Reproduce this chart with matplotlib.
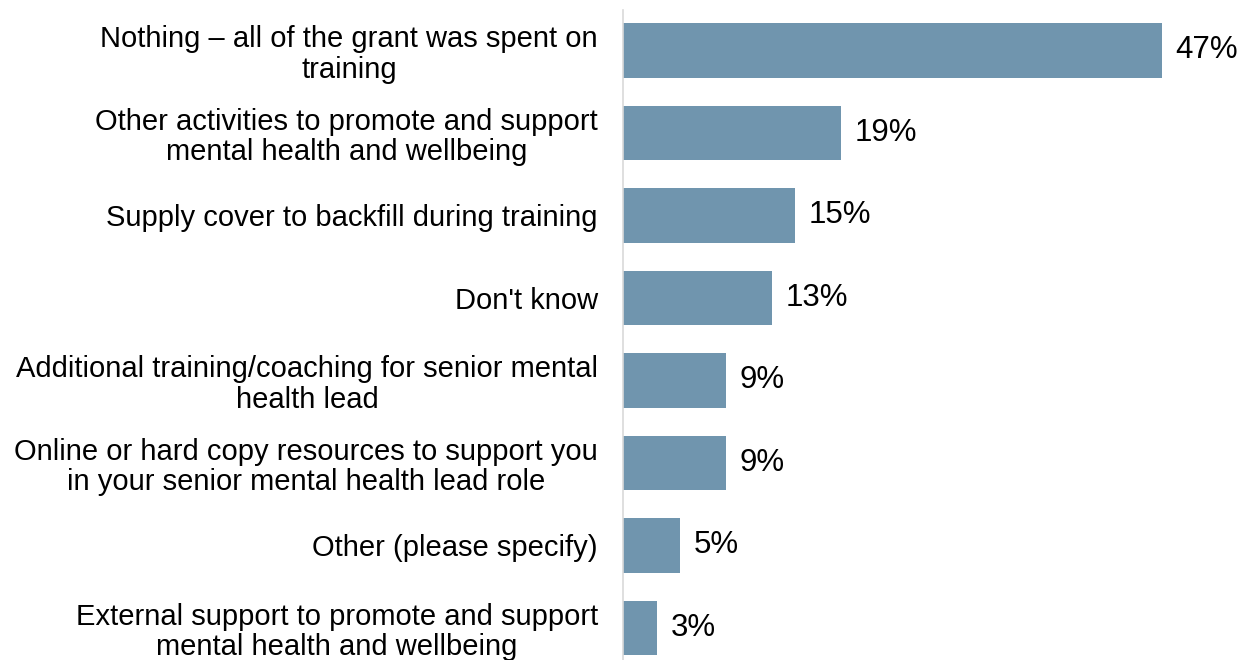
import matplotlib.pyplot as plt

plt.rcParams['font.family'] = ['Liberation Sans', 'DejaVu Sans']

categories = [
    'Nothing – all of the grant was spent on\ntraining',
    'Other activities to promote and support\nmental health and wellbeing',
    'Supply cover to backfill during training',
    "Don't know",
    'Additional training/coaching for senior mental\nhealth lead',
    'Online or hard copy resources to support you\nin your senior mental health lead role',
    'Other (please specify)',
    'External support to promote and support\nmental health and wellbeing',
]
values = [47, 19, 15, 13, 9, 9, 5, 3]

fig = plt.figure(figsize=(12.43, 6.6), dpi=100)
ax = fig.add_axes([623 / 1243, 0, 620 / 1243, 650 / 660])

pos = range(len(values))
ax.barh(pos, values, height=0.66, color='#7095ae')
for y, v in zip(pos, values):
    ax.text(v + 1.2, y, f'{v}%', va='center', ha='left', fontsize=22.5, color='black')

ax.set_xlim(0, 54.1)
ax.set_ylim(7.39, -0.49)
ax.set_yticks(list(pos))
ax.set_yticklabels(categories, fontsize=21, linespacing=1.1, multialignment='center')
ax.tick_params(axis='y', length=0, pad=18)
ax.set_xticks([])

for side in ['top', 'right', 'bottom']:
    ax.spines[side].set_visible(False)
ax.spines['left'].set_color('#d9d9d9')
ax.spines['left'].set_linewidth(1.2)

fig.savefig('out.png', dpi=100)
